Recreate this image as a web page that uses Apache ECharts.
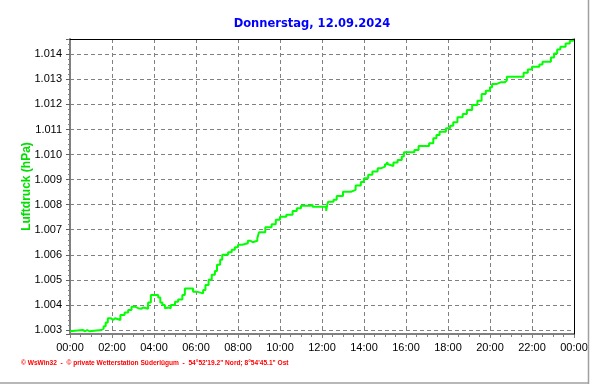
<!DOCTYPE html>
<html>
<head>
<meta charset="utf-8">
<script src="https://cdn.jsdelivr.net/npm/echarts@6/dist/echarts.min.js"></script>
<style>
html,body{margin:0;padding:0;background:#fff;}
#chart{width:592px;height:384px;}
</style>
</head>
<body>
<div id="chart"></div>
<script>
// ---- data (hours since midnight, pressure) ----
var titleText = 'Donnerstag, 12.09.2024';
var yName = 'Luftdruck (hPa)';
var footerText = '\u00a9 WsWin32  -  \u00a9 private Wetterstation S\u00fcderl\u00fcgum  -  54\u00b052\'19.2" Nord; 8\u00b054\'45.1" Ost';
var hours = [0, 0.07, 0.6, 0.72, 0.82, 0.92, 1.5, 1.6, 1.7, 1.8, 1.95, 2.05, 2.15, 2.4, 2.6, 2.77, 2.93, 3.09, 3.25, 3.4, 3.5, 3.72, 3.85, 4.2, 4.3, 4.4, 4.52, 4.6, 4.7, 4.8, 5.0, 5.15, 5.35, 5.47, 5.86, 6.02, 6.34, 6.45, 6.6, 6.75, 6.9, 7.0, 7.15, 7.25, 7.53, 7.7, 7.85, 8.0, 8.2, 8.47, 8.6, 8.7, 8.92, 9.0, 9.3, 9.6, 9.8, 10.0, 10.3, 10.6, 10.8, 11.0, 11.45, 11.55, 12.2, 12.25, 12.3, 12.55, 12.7, 13.0, 13.4, 13.6, 13.85, 14.0, 14.2, 14.4, 14.65, 14.8, 15.0, 15.1, 15.15, 15.2, 15.4, 15.6, 15.8, 15.9, 16.4, 16.6, 17.1, 17.3, 17.45, 17.6, 17.9, 18.1, 18.25, 18.45, 18.7, 18.9, 19.15, 19.4, 19.6, 19.8, 20.0, 20.1, 20.3, 20.5, 20.55, 20.7, 20.8, 21.6, 21.8, 22.0, 22.35, 22.5, 22.9, 23.05, 23.2, 23.35, 23.6, 23.8, 23.97, 24];
var pressure = [1.00295, 1.0030, 1.00295, 1.0030, 1.00295, 1.0030, 1.00305, 1.00315, 1.0033, 1.00347, 1.0034, 1.00347, 1.0034, 1.0036, 1.0037, 1.0038, 1.00393, 1.00387, 1.00385, 1.0039, 1.00385, 1.0041, 1.0044, 1.0043, 1.0041, 1.0040, 1.00387, 1.0039, 1.00387, 1.0040, 1.00413, 1.00422, 1.0044, 1.00466, 1.00453, 1.00446, 1.0046, 1.0048, 1.0050, 1.0052, 1.00535, 1.0056, 1.0058, 1.0060, 1.0061, 1.0062, 1.0063, 1.0064, 1.00646, 1.00656, 1.0065, 1.00656, 1.00666, 1.0069, 1.0071, 1.00722, 1.0074, 1.00752, 1.0076, 1.00775, 1.00786, 1.00796, 1.0080, 1.00792, 1.00775, 1.0080, 1.00812, 1.0082, 1.00835, 1.00852, 1.00859, 1.00876, 1.0089, 1.00905, 1.00919, 1.00932, 1.00945, 1.00952, 1.00961, 1.0097, 1.00961, 1.00954, 1.00968, 1.00978, 1.00992, 1.01009, 1.01018, 1.01034, 1.01045, 1.01065, 1.01078, 1.01091, 1.01105, 1.01115, 1.01129, 1.01149, 1.01162, 1.01178, 1.01198, 1.01215, 1.01242, 1.01255, 1.01268, 1.01281, 1.01288, 1.01281, 1.01288, 1.01295, 1.0131, 1.01326, 1.01339, 1.0135, 1.01359, 1.0137, 1.01387, 1.01403, 1.01419, 1.0143, 1.01443, 1.01454, 1.01463, 1.01463];
var yMin = 1.00284, yMax = 1.01461, yStep = 0.001;
var xMin = 0, xMax = 24, xStep = 2;

var seriesData = hours.map(function (h, i) { return [h, pressure[i]]; });
var FONT = '"Liberation Sans", Arial, sans-serif';
var chart = echarts.init(document.getElementById('chart'), null, {renderer: 'canvas'});
chart.setOption({
  animation: false,
  backgroundColor: '#ffffff',
  grid: {left: 70, top: 39, width: 504, height: 295, containLabel: false},
  xAxis: [{
    type: 'value', min: xMin, max: xMax, interval: xStep,
    axisLine: {show: true, lineStyle: {color: '#808080', width: 2}},
    axisTick: {show: true, length: 4, lineStyle: {color: '#808080'}},
    minorTick: {show: true, splitNumber: 4, length: 3, lineStyle: {color: '#808080'}},
    axisLabel: {color: '#000', fontFamily: FONT, fontSize: 11, margin: 8,
      formatter: function (v) { var h = Math.round(v) % 24; return (h < 10 ? '0' : '') + h + ':00'; }},
    splitLine: {show: true, lineStyle: {color: '#808080', type: [4, 3], width: 1}}
  }, {
    type: 'value', min: xMin, max: xMax, position: 'top', z: 5,
    axisLine: {show: true, onZero: false, lineStyle: {color: '#000', width: 1}},
    axisTick: {show: false}, axisLabel: {show: false}, splitLine: {show: false}
  }],
  yAxis: [{
    type: 'value', min: yMin, max: yMax, minInterval: yStep, maxInterval: yStep, splitNumber: 11,
    name: yName, nameLocation: 'middle', nameGap: 37, nameMoveOverlap: false,
    nameTextStyle: {color: '#00e000', fontWeight: 'bold', fontSize: 12, fontFamily: FONT},
    axisLine: {show: true, lineStyle: {color: '#808080', width: 2}},
    axisTick: {show: true, length: 4, lineStyle: {color: '#606060'}},
    minorTick: {show: true, splitNumber: 5, length: 2, lineStyle: {color: '#808080'}},
    axisLabel: {color: '#000', fontFamily: FONT, fontSize: 11, margin: 8, showMinLabel: false, showMaxLabel: false,
      formatter: function (v) {
        return Math.abs(v / yStep - Math.round(v / yStep)) < 1e-4 ? v.toFixed(3) : '';
      }},
    splitLine: {show: true, lineStyle: {color: '#808080', type: [4, 3], width: 1}}
  }, {
    type: 'value', min: yMin, max: yMax, position: 'right', z: 5,
    axisLine: {show: true, onZero: false, lineStyle: {color: '#000', width: 1}},
    axisTick: {show: false}, axisLabel: {show: false}, splitLine: {show: false}
  }],
  series: [{
    type: 'line', xAxisIndex: 0, yAxisIndex: 0, data: seriesData, step: 'end',
    showSymbol: false, symbol: 'none', z: 3,
    lineStyle: {color: '#00ff00', width: 2}
  }],
  graphic: [
    {type: 'text', x: 312, y: 24.5, z: 10,
      style: {text: titleText, fill: '#0000ff', font: 'bold 11.5px "DejaVu Sans", sans-serif', textAlign: 'center', textVerticalAlign: 'middle'}},
    {type: 'text', x: 21, y: 363, z: 10,
      style: {text: footerText, fill: '#ff0000', font: 'bold 6.6px ' + FONT, textAlign: 'left', textVerticalAlign: 'middle'}},
    {type: 'line', z: 10, shape: {x1: 0, y1: 383, x2: 589, y2: 383}, style: {stroke: '#a0a0a0', lineWidth: 1.5}},
    {type: 'line', z: 10, shape: {x1: 588.5, y1: 0, x2: 588.5, y2: 384}, style: {stroke: '#a0a0a0', lineWidth: 1.5}}
  ]
});
</script>
</body>
</html>
